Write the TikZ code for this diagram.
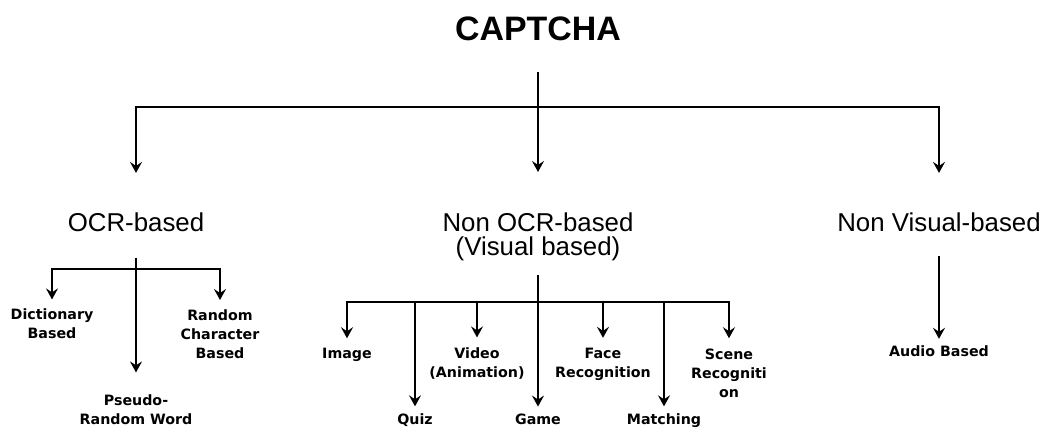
\documentclass[tikz,border=0pt]{standalone}
\usepackage{fontspec}
\setmainfont{Liberation Sans}
\newfontfamily\leaffont{DejaVu Sans}
\usetikzlibrary{arrows.meta}

\begin{document}
\begin{tikzpicture}[x=0.02cm, y=-0.02cm,
  rootlabel/.style={inner sep=0pt, anchor=base, font=\fontsize{19.3}{22}\selectfont\bfseries},
  kindlabel/.style={inner sep=0pt, anchor=base, align=center, font=\fontsize{14.7}{14.2}\selectfont},
  leaflabel/.style={inner sep=0pt, anchor=base, align=center, font=\leaffont\bfseries\fontsize{8.1}{11.05}\selectfont},
  branch/.style={line width=0.85pt},
  pointer/.style={branch, -{Stealth[length=2.2mm, width=2.4mm, inset=0.8mm]}}]
\useasboundingbox (0,0) rectangle (1048,428);

% root and first level (base = last line)
\node[rootlabel] (captcha) at (538,41) {CAPTCHA};
\coordinate (rootbar) at (538,107);
\node[kindlabel] (ocr) at (136,232) {OCR-based};
\node[kindlabel] (nonocr) at (538,256) {Non OCR-based\\(Visual based)};
\node[kindlabel] (nonvis) at (939,232) {Non Visual-based};
\draw[branch, shorten <=6mm] (captcha) -- (rootbar);
\draw[pointer, shorten >=8mm] (rootbar) -| (ocr);
\draw[pointer, shorten >=8mm] (rootbar) -- (nonocr);
\draw[pointer, shorten >=8mm] (rootbar) -| (nonvis);

% OCR-based
\coordinate (ocrbar) at (136,269);
\node[leaflabel] (dict) at (52,339) {Dictionary\\Based};
\node[leaflabel] (randchar) at (220,359) {Random\\Character\\Based};
\node[leaflabel] (pseudo) at (136,425) {Pseudo-\\Random Word};
\draw[pointer, shorten <=5mm, shorten >=4.4mm] (ocr) -- (pseudo);
\draw[pointer, shorten >=1.8mm] (ocrbar) -| (dict);
\draw[pointer, shorten >=1.8mm] (ocrbar) -| (randchar);

% Non OCR-based
\coordinate (visbar) at (538,302);
\node[leaflabel] (image) at (347,359) {Image};
\node[leaflabel] (video) at (477,378) {Video\\(Animation)};
\node[leaflabel] (face) at (603,378) {Face\\Recognition};
\node[leaflabel] (scene) at (729,398) {Scene\\Recogniti\\on};
\node[leaflabel] (quiz) at (415,425) {Quiz};
\node[leaflabel] (game) at (538,425) {Game};
\node[leaflabel] (matching) at (664,425) {Matching};
\draw[pointer, shorten <=2.7mm, shorten >=1.5mm] (nonocr) -- (game);
\draw[pointer, shorten >=2mm] (visbar) -| (image);
\draw[pointer, shorten >=1.5mm] (visbar) -| (quiz);
\draw[pointer, shorten >=2mm] (visbar) -| (video);
\draw[pointer, shorten >=2mm] (visbar) -| (face);
\draw[pointer, shorten >=1.5mm] (visbar) -| (matching);
\draw[pointer, shorten >=2mm] (visbar) -| (scene);

% Non Visual-based
\node[leaflabel] (audio) at (939,357) {Audio Based};
\draw[pointer, shorten <=4.6mm, shorten >=1.4mm] (nonvis) -- (audio);
\end{tikzpicture}
\end{document}
